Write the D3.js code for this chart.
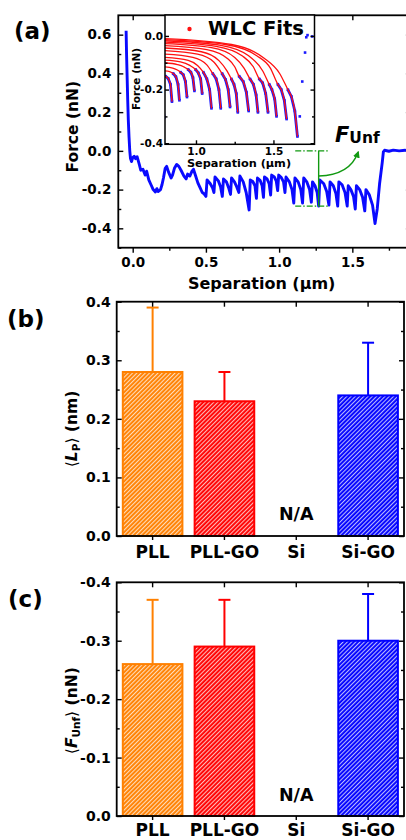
<!DOCTYPE html>
<html><head><meta charset="utf-8">
<script src="https://cdn.jsdelivr.net/npm/d3@7"></script>
<style>
body{margin:0;background:#fff}
svg{display:block}
text{font-family:"DejaVu Sans",sans-serif;font-weight:bold;fill:#000}
</style>
</head><body>
<svg id="fig" width="406" height="840"></svg>
<script>
// ---------------- DATA ----------------
// (a) force-separation trace: approach part, sawtooth teeth (top -> rupture), release part
const traceApproach = [[-0.045,0.62],[-0.042,0.5],[-0.038,0.38],[-0.034,0.26],[-0.03,0.16],[-0.025,0.07],[-0.02,0.0],[-0.015,-0.04],[-0.008,-0.055],[0.0,-0.035],[0.01,-0.028],[0.02,-0.04],[0.03,-0.03],[0.045,-0.07],[0.055,-0.1],[0.07,-0.095],[0.085,-0.125],[0.095,-0.105],[0.11,-0.15],[0.125,-0.175],[0.14,-0.2],[0.155,-0.212],[0.165,-0.195],[0.175,-0.21],[0.19,-0.2],[0.2,-0.175],[0.21,-0.14],[0.222,-0.09],[0.232,-0.08],[0.245,-0.11],[0.262,-0.14],[0.272,-0.125],[0.285,-0.09],[0.3,-0.07],[0.315,-0.08],[0.33,-0.1],[0.35,-0.13],[0.365,-0.145],[0.375,-0.12],[0.39,-0.13],[0.405,-0.105],[0.415,-0.095],[0.43,-0.13],[0.445,-0.165],[0.46,-0.19],[0.475,-0.215],[0.485,-0.22],[0.5,-0.235]];
const teeth = [
 [[0.508,-0.15],[0.53,-0.17],[0.545,-0.19],[0.555,-0.215]],
 [[0.562,-0.135],[0.585,-0.155],[0.6,-0.185],[0.612,-0.235]],
 [[0.62,-0.145],[0.64,-0.16],[0.655,-0.19],[0.668,-0.225]],
 [[0.675,-0.14],[0.695,-0.16],[0.71,-0.185],[0.725,-0.215]],
 [[0.732,-0.13],[0.755,-0.16],[0.775,-0.215],[0.795,-0.305]],
 [[0.803,-0.15],[0.82,-0.158],[0.835,-0.18],[0.845,-0.245]],
 [[0.852,-0.14],[0.87,-0.152],[0.884,-0.18],[0.893,-0.24]],
 [[0.9,-0.135],[0.918,-0.145],[0.932,-0.17],[0.942,-0.228]],
 [[0.949,-0.125],[0.967,-0.135],[0.98,-0.155],[0.99,-0.205]],
 [[0.997,-0.125],[1.015,-0.138],[1.03,-0.16],[1.04,-0.215]],
 [[1.047,-0.135],[1.07,-0.16],[1.088,-0.2],[1.10,-0.27]],
 [[1.108,-0.14],[1.13,-0.16],[1.148,-0.2],[1.16,-0.27]],
 [[1.168,-0.14],[1.19,-0.162],[1.208,-0.2],[1.22,-0.265]],
 [[1.228,-0.16],[1.245,-0.18],[1.26,-0.215],[1.27,-0.285]],
 [[1.278,-0.15],[1.305,-0.17],[1.325,-0.21],[1.34,-0.28]],
 [[1.348,-0.16],[1.37,-0.18],[1.388,-0.22],[1.40,-0.285]],
 [[1.408,-0.16],[1.43,-0.175],[1.45,-0.215],[1.465,-0.285]],
 [[1.472,-0.18],[1.49,-0.2],[1.508,-0.235],[1.52,-0.30]],
 [[1.528,-0.18],[1.55,-0.2],[1.57,-0.24],[1.585,-0.31]],
 [[1.593,-0.2],[1.615,-0.225],[1.638,-0.28],[1.655,-0.375]]
];
const traceRelease = [[1.67,-0.3],[1.686,-0.17],[1.704,-0.062],[1.712,-0.005],[1.72,0.003],[1.75,-0.002],[1.78,0.004],[1.82,0.0],[1.86,0.003],[1.9,0.0]];
// WLC fits: leading points of each fit (fit k continues along tooth fitTooth[k])
const fitTooth = [5,6,7,8,9,10,11,12,13,14,15,16,17,18,19];
const fitLead = [
 [[0.8,-0.148]],
 [[0.8,-0.13],[0.83,-0.133]],
 [[0.8,-0.115],[0.85,-0.12],[0.88,-0.127]],
 [[0.8,-0.1],[0.88,-0.107],[0.92,-0.115]],
 [[0.8,-0.09],[0.9,-0.097],[0.96,-0.11]],
 [[0.8,-0.08],[0.95,-0.091],[1.01,-0.11]],
 [[0.8,-0.068],[0.98,-0.08],[1.07,-0.108]],
 [[0.8,-0.055],[1.01,-0.068],[1.115,-0.097]],
 [[0.8,-0.045],[1.035,-0.059],[1.15,-0.093],[1.2,-0.13]],
 [[0.8,-0.036],[1.07,-0.051],[1.205,-0.085],[1.25,-0.115]],
 [[0.8,-0.029],[1.1,-0.044],[1.25,-0.08],[1.31,-0.12]],
 [[0.8,-0.023],[1.13,-0.039],[1.3,-0.075],[1.37,-0.115]],
 [[0.8,-0.018],[1.16,-0.035],[1.34,-0.074],[1.43,-0.13]],
 [[0.8,-0.014],[1.19,-0.032],[1.39,-0.073],[1.48,-0.12]],
 [[0.8,-0.01],[1.23,-0.032],[1.44,-0.083],[1.54,-0.14]]
];
// F_Unf annotation (data coordinates)
const unfX = 1.27, unfLevels = [0, -0.285], unfSpan = [1.11, 1.335];
const unfArrow = [[1.27,-0.13],[1.485,-0.125],[1.54,-0.006]];
// tick values
const aYTicks = [-0.4,-0.2,0,0.2,0.4,0.6], aYMinor = [-0.5,-0.3,-0.1,0.1,0.3,0.5,0.7];
const aXTicks = [0,0.5,1,1.5], aXMinor = [0.25,0.75,1.25,1.75];
const inYTicks = [0,-0.2,-0.4], inYMinor = [-0.1,-0.3];
const inXTicks = [1.0,1.5], inXMinor = [1.25];
// (b), (c) bar data
const categories = ["PLL","PLL-GO","Si","Si-GO"];
const lpMean = [0.28,0.23,null,0.24];
const lpErr  = [0.11,0.05,null,0.09];
const fMean  = [-0.26,-0.29,null,-0.30];
const fErr   = [-0.11,-0.08,null,-0.08];
const bYTicks = [0,0.1,0.2,0.3,0.4];
const cYTicks = [0,-0.1,-0.2,-0.3,-0.4];
const barColors = ["#ff8000","#ff0000","#888","#0000ff"];

// ---------------- DRAW ----------------
const svg = d3.select("#fig");
const fmt = d => d.toFixed(1);
const defs = svg.append("defs");
barColors.forEach((c,i)=>{
  const p = defs.append("pattern").attr("id","hatch"+i).attr("patternUnits","userSpaceOnUse")
    .attr("width",3).attr("height",3).attr("patternTransform","rotate(45)");
  p.append("rect").attr("width",3).attr("height",3).attr("fill",c);
  p.append("line").attr("x1",0.6).attr("x2",0.6).attr("y1",0).attr("y2",3).attr("stroke","#fff").attr("stroke-width",1).attr("stroke-opacity",0.8);
});

function styleAxis(g, fs){
  g.select(".domain").remove();
  g.selectAll(".tick line").attr("stroke","#000").attr("stroke-width",1.4);
  g.selectAll("text").style("font-size",fs+"px").attr("fill","#000");
}
function frame(x0,x1,y0,y1,w){
  svg.append("rect").attr("x",x0).attr("y",y0).attr("width",x1-x0).attr("height",y1-y0)
    .attr("fill","none").attr("stroke","#000").attr("stroke-width",w);
}

// ===== Panel (a) =====
const A = {l:118.3, r:410.9, t:15.3, b:247.7};
const xA = d3.scaleLinear().domain([-0.1,1.9]).range([118.06,410.9]);
const yA = d3.scaleLinear().domain([-0.5,0.7]).range([247.7,15.3]);
defs.append("clipPath").attr("id","clipA").append("rect").attr("x",A.l).attr("y",A.t).attr("width",A.r-A.l).attr("height",A.b-A.t);
const trace = traceApproach.concat(...teeth, traceRelease);
const lineA = d3.line().x(d=>xA(d[0])).y(d=>yA(d[1]));
svg.append("path").attr("d",lineA(trace)).attr("clip-path","url(#clipA)")
  .attr("fill","none").attr("stroke","#0a0aff").attr("stroke-width",2.9).attr("stroke-linejoin","round");

// axes (a)
svg.append("g").attr("transform",`translate(${A.l},0)`).call(d3.axisLeft(yA).tickValues(aYTicks).tickSize(-5).tickPadding(7).tickFormat(fmt)).call(g=>styleAxis(g,13.5));
svg.append("g").attr("transform",`translate(${A.l},0)`).call(d3.axisLeft(yA).tickValues(aYMinor.filter(v=>v<0.7)).tickSize(-3).tickFormat("")).call(g=>styleAxis(g,10));
svg.append("g").attr("transform",`translate(${A.r},0)`).call(d3.axisRight(yA).tickValues(aYTicks).tickSize(-5).tickFormat("")).call(g=>styleAxis(g,10));
svg.append("g").attr("transform",`translate(${A.r},0)`).call(d3.axisRight(yA).tickValues(aYMinor).tickSize(-3).tickFormat("")).call(g=>styleAxis(g,10));
svg.append("g").attr("transform",`translate(0,${A.b})`).call(d3.axisBottom(xA).tickValues(aXTicks).tickSize(5).tickPadding(5).tickFormat(fmt)).call(g=>styleAxis(g,13.5));
svg.append("g").attr("transform",`translate(0,${A.b})`).call(d3.axisBottom(xA).tickValues(aXMinor).tickSize(3).tickFormat("")).call(g=>styleAxis(g,10));
svg.append("g").attr("transform",`translate(0,${A.t})`).call(d3.axisTop(xA).tickValues(aXTicks).tickSize(-5).tickFormat("")).call(g=>styleAxis(g,10));
frame(A.l,A.r,A.t,A.b,1.8);

svg.append("text").attr("transform","translate(72.5,126.7) rotate(-90)").attr("text-anchor","middle").attr("dy","0.36em").style("font-size","15.5px").text("Force (nN)");
svg.append("text").attr("x",261.7).attr("y",289).attr("text-anchor","middle").style("font-size","16px").text("Separation (\u03bcm)");
svg.append("text").attr("x",14).attr("y",38.5).style("font-size","23px").text("(a)");

// F_Unf annotation
const green = "#119911";
svg.append("line").attr("x1",xA(unfSpan[0])).attr("x2",xA(unfSpan[1])).attr("y1",yA(unfLevels[0])).attr("y2",yA(unfLevels[0]))
  .attr("stroke",green).attr("stroke-width",1.3).attr("stroke-dasharray","6,2,1.5,2");
svg.append("line").attr("x1",xA(unfSpan[0])).attr("x2",xA(unfSpan[1])).attr("y1",yA(unfLevels[1])).attr("y2",yA(unfLevels[1]))
  .attr("stroke",green).attr("stroke-width",1.3).attr("stroke-dasharray","6,2,1.5,2");
svg.append("line").attr("x1",xA(unfX)).attr("x2",xA(unfX)).attr("y1",yA(unfLevels[0])).attr("y2",yA(unfLevels[1]))
  .attr("stroke",green).attr("stroke-width",1.4);
defs.append("marker").attr("id","arr").attr("viewBox","0 0 10 10").attr("refX",8).attr("refY",5)
  .attr("markerWidth",7).attr("markerHeight",7).attr("markerUnits","userSpaceOnUse").attr("orient","auto")
  .append("path").attr("d","M0,0L10,5L0,10Z").attr("fill",green);
const ap = unfArrow.map(d=>[xA(d[0]),yA(d[1])]);
svg.append("path").attr("d",`M${ap[0][0]},${ap[0][1]}Q${ap[1][0]},${ap[1][1]} ${ap[2][0]},${ap[2][1]}`)
  .attr("fill","none").attr("stroke",green).attr("stroke-width",1.4).attr("marker-end","url(#arr)");
const tU = svg.append("text").attr("x",335).attr("y",141.7);
tU.append("tspan").style("font-size","21px").style("font-style","italic").text("F");
tU.append("tspan").style("font-size","15.5px").attr("dy",1.6).text("Unf");

// ===== Inset =====
const I = {l:165, r:314.5, t:15, b:144.3};
const xI = d3.scaleLinear().domain([0.8,1.765]).range([I.l,I.r]);
const yI = d3.scaleLinear().domain([-0.404,0.078]).range([I.b,I.t]);
svg.append("rect").attr("x",I.l).attr("y",I.t).attr("width",I.r-I.l).attr("height",I.b-I.t).attr("fill","#fff");
defs.append("clipPath").attr("id","clipI").append("rect").attr("x",I.l).attr("y",I.t).attr("width",I.r-I.l).attr("height",I.b-I.t);
const gI = svg.append("g").attr("clip-path","url(#clipI)");
const lineI = d3.line().x(d=>xI(d[0])).y(d=>yI(d[1]));
teeth.forEach(t=>{
  gI.append("path").attr("d",lineI(t)).attr("fill","none").attr("stroke","#1a1aff").attr("stroke-width",2.8).attr("stroke-linejoin","round");
});
gI.selectAll("rect.pt").data(trace.filter(d=>d[0]>=0.79)).join("rect").attr("class","pt")
  .attr("x",d=>xI(d[0])-1.3).attr("y",d=>yI(d[1])-1.3).attr("width",2.6).attr("height",2.6).attr("fill","#1a1aff");
const lineFit = d3.line().curve(d3.curveMonotoneX).x(d=>xI(d[0])).y(d=>yI(d[1]));
fitLead.forEach((lead,k)=>{
  gI.append("path").attr("d",lineFit(lead.concat(teeth[fitTooth[k]]))).attr("fill","none")
    .attr("stroke","#ff1010").attr("stroke-width",1.3);
});
svg.append("g").attr("transform",`translate(${I.l},0)`).call(d3.axisLeft(yI).tickValues(inYTicks).tickSize(-4).tickPadding(2).tickFormat(fmt)).call(g=>styleAxis(g,10.5));
svg.append("g").attr("transform",`translate(${I.l},0)`).call(d3.axisLeft(yI).tickValues(inYMinor).tickSize(-2.5).tickFormat("")).call(g=>styleAxis(g,10));
svg.append("g").attr("transform",`translate(${I.r},0)`).call(d3.axisRight(yI).tickValues(inYTicks).tickSize(-4).tickFormat("")).call(g=>styleAxis(g,10));
svg.append("g").attr("transform",`translate(${I.r},0)`).call(d3.axisRight(yI).tickValues(inYMinor).tickSize(-2.5).tickFormat("")).call(g=>styleAxis(g,10));
svg.append("g").attr("transform",`translate(0,${I.b})`).call(d3.axisBottom(xI).tickValues(inXTicks).tickSize(-4).tickPadding(3).tickFormat(fmt)).call(g=>styleAxis(g,10.5));
svg.append("g").attr("transform",`translate(0,${I.b})`).call(d3.axisBottom(xI).tickValues(inXMinor).tickSize(-2.5).tickFormat("")).call(g=>styleAxis(g,10));
frame(I.l,I.r,I.t,I.b,1.5);
svg.append("text").attr("transform","translate(136.5,79) rotate(-90)").attr("text-anchor","middle").attr("dy","0.36em").style("font-size","10.5px").text("Force (nN)");
svg.append("text").attr("x",239).attr("y",166.5).attr("text-anchor","middle").style("font-size","11.3px").text("Separation (\u03bcm)");
svg.append("circle").attr("cx",189.5).attr("cy",29).attr("r",2.2).attr("fill","#ff1010");
svg.append("text").attr("x",208).attr("y",35).style("font-size","19.5px").text("WLC Fits");

// ===== Bar panels =====
function barPanel(P, yDom, yTicks, yMinor, mean, err, label, titleParts, titleY){
  const x = d3.scaleBand().domain(categories).range([P.l,P.r]).paddingInner(0.17).paddingOuter(0.085);
  const y = d3.scaleLinear().domain(yDom).range([P.b,P.t]);
  const data = categories.map((c,i)=>({c,i,v:mean[i],e:err[i]})).filter(d=>d.v!==null);
  svg.selectAll(null).data(data).join("rect")
    .attr("x",d=>x(d.c)).attr("width",x.bandwidth())
    .attr("y",d=>Math.min(y(0),y(d.v))).attr("height",d=>Math.abs(y(0)-y(d.v)))
    .attr("fill",d=>`url(#hatch${d.i})`).attr("stroke",d=>barColors[d.i]).attr("stroke-width",2);
  svg.selectAll(null).data(data).join("line")
    .attr("x1",d=>x(d.c)+x.bandwidth()/2).attr("x2",d=>x(d.c)+x.bandwidth()/2)
    .attr("y1",d=>y(d.v)).attr("y2",d=>y(d.v+d.e)).attr("stroke",d=>barColors[d.i]).attr("stroke-width",2);
  svg.selectAll(null).data(data).join("line")
    .attr("x1",d=>x(d.c)+x.bandwidth()/2-6).attr("x2",d=>x(d.c)+x.bandwidth()/2+6)
    .attr("y1",d=>y(d.v+d.e)).attr("y2",d=>y(d.v+d.e)).attr("stroke",d=>barColors[d.i]).attr("stroke-width",2);
  svg.append("g").attr("transform",`translate(${P.l},0)`).call(d3.axisLeft(y).tickValues(yTicks).tickSize(-5).tickPadding(6).tickFormat(fmt)).call(g=>styleAxis(g,14));
  svg.append("g").attr("transform",`translate(${P.l},0)`).call(d3.axisLeft(y).tickValues(yMinor).tickSize(-3).tickFormat("")).call(g=>styleAxis(g,10));
  svg.append("g").attr("transform",`translate(${P.r},0)`).call(d3.axisRight(y).tickValues(yTicks).tickSize(-5).tickFormat("")).call(g=>styleAxis(g,10));
  svg.append("g").attr("transform",`translate(${P.r},0)`).call(d3.axisRight(y).tickValues(yMinor).tickSize(-3).tickFormat("")).call(g=>styleAxis(g,10));
  svg.append("g").attr("transform",`translate(0,${P.b})`).call(d3.axisBottom(x).tickSize(4).tickPadding(P.lp)).call(g=>styleAxis(g,17));
  svg.append("g").attr("transform",`translate(0,${P.t})`).call(d3.axisTop(x).tickSize(-5).tickFormat("")).call(g=>styleAxis(g,10));
  frame(P.l,P.r,P.t,P.b,1.8);
  svg.append("text").attr("x",x("Si")+x.bandwidth()/2).attr("y",P.na).attr("text-anchor","middle").style("font-size","17.5px").text("N/A");
  svg.append("text").attr("x",P.lx).attr("y",P.ly).style("font-size","23px").text(label);
  const t = svg.append("text").attr("transform",`translate(71,${titleY}) rotate(-90)`).attr("text-anchor","middle").attr("dy","0.36em").style("font-size","15.5px");
  titleParts(t);
}
barPanel({l:116.7,r:404,t:301.7,b:536,na:520,lx:7,ly:327,lp:6.3}, [0,0.4], bYTicks, [0.05,0.15,0.25,0.35], lpMean, lpErr, "(b)", t=>{
  t.append("tspan").style("font-weight","normal").text("\u27e8");
  t.append("tspan").style("font-style","italic").text("L");
  t.append("tspan").style("font-size","10.5px").attr("dy",3).text("P");
  t.append("tspan").style("font-weight","normal").attr("dy",-3).text("\u27e9");
  t.append("tspan").text(" (nm)");
}, 429);
barPanel({l:116.7,r:404,t:582.3,b:816,na:801,lx:8,ly:607,lp:4.3}, [0,-0.4], cYTicks, [-0.05,-0.15,-0.25,-0.35], fMean, fErr, "(c)", t=>{
  t.append("tspan").style("font-weight","normal").text("\u27e8");
  t.append("tspan").style("font-style","italic").text("F");
  t.append("tspan").style("font-size","10.5px").attr("dy",3).text("Unf");
  t.append("tspan").style("font-weight","normal").attr("dy",-3).text("\u27e9");
  t.append("tspan").text(" (nN)");
}, 710.7);
</script>
</body></html>
